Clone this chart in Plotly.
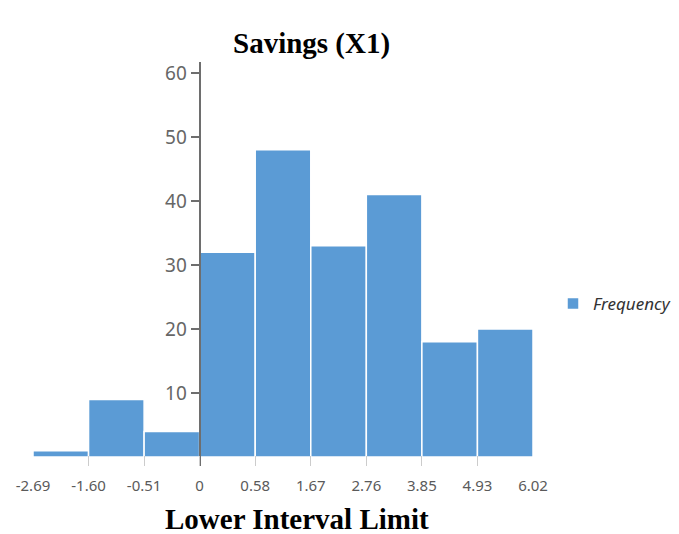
import numpy as np
import plotly.graph_objects as go

# Data
edge_labels = ["-2.69", "-1.60", "-0.51", "0", "0.58", "1.67", "2.76", "3.85", "4.93", "6.02"]
frequency = [1, 9, 4, 32, 48, 33, 41, 18, 20]
series_name = "Frequency"
y_ticks = [10, 20, 30, 40, 50, 60]

# Edge positions: equally spaced, the "0" edge placed at the origin
zero_idx = edge_labels.index("0")
edges = np.arange(len(edge_labels)) - zero_idx
centers = edges[:-1] + 0.5

W, H = 679, 534
ml, mr, mt, mb = 33, 146, 62, 68
PW, PH = W - ml - mr, H - mt - mb

fig = go.Figure()
fig.add_trace(go.Bar(
    x=centers, y=frequency, width=1.0, name=series_name,
    marker=dict(color="#5b9bd5", line=dict(color="#ffffff", width=1.5)),
    showlegend=True,
))

xmin, xmax = edges[0], edges[-1]
ypos = (0 - xmin) / (xmax - xmin)

fig.update_layout(
    width=W, height=H,
    margin=dict(l=ml, r=mr, t=mt, b=mb, pad=0, autoexpand=False),
    paper_bgcolor="white", plot_bgcolor="white",
    xaxis=dict(range=[xmin, xmax], tickmode="array", tickvals=edges, ticktext=edge_labels,
               showgrid=False, zeroline=False, showline=False, automargin=False,
               ticks="inside", ticklen=10, tickcolor="#cccccc", tickwidth=1,
               ticklabelstandoff=9,
               tickfont=dict(family="Noto Sans", size=15, color="#5a5a5a")),
    yaxis=dict(range=[-1.4, 61.7], anchor="free", position=ypos, automargin=False,
               tickmode="array", tickvals=y_ticks,
               showgrid=False, zeroline=False, showline=True, linecolor="#6e6e6e", linewidth=2,
               ticks="outside", ticklen=8, tickcolor="#6e6e6e", tickwidth=1.5,
               tickfont=dict(family="Noto Sans", size=19, color="#666666")),
    legend=dict(xref="container", yref="container", x=553 / W, y=1 - 304 / H,
                xanchor="left", yanchor="middle", bgcolor="rgba(0,0,0,0)",
                font=dict(family="Noto Sans", size=17, color="#333333", style="italic")),
    annotations=[
        dict(text="<b>Savings (X1)</b>", xref="paper", yref="paper",
             x=(311 - ml) / PW, y=1 + (mt - 44) / PH,
             xanchor="center", yanchor="middle", showarrow=False,
             font=dict(family="Liberation Serif", size=29, color="#000000")),
        dict(text="<b>Lower Interval Limit</b>", xref="paper", yref="paper",
             x=(297 - ml) / PW, y=-(519 - (H - mb)) / PH,
             xanchor="center", yanchor="middle", showarrow=False,
             font=dict(family="Liberation Serif", size=29, color="#000000")),
    ],
)

fig.write_html("out.html", post_script="document.body.style.margin='0';",
               config={"displayModeBar": False})
